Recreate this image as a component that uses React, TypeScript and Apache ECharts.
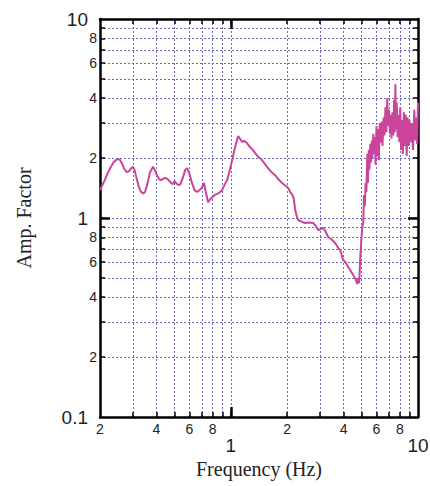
import React, { useEffect, useRef } from "react";
import * as echarts from "echarts";

// Frequency (Hz) and amplification factor of the site response curve
const freq = [
  0.2, 0.205, 0.212, 0.22, 0.228, 0.236, 0.247, 0.255, 0.262, 0.27, 0.278, 0.286, 0.294, 0.3, 0.306,
  0.314, 0.322, 0.33, 0.34, 0.348, 0.358, 0.37, 0.384, 0.395, 0.405, 0.415, 0.424, 0.436, 0.45, 0.462,
  0.48, 0.49, 0.5, 0.51, 0.52, 0.536, 0.555, 0.57, 0.584, 0.6, 0.62, 0.64, 0.66, 0.68, 0.7,
  0.719, 0.735, 0.756, 0.78, 0.824, 0.86, 0.898, 0.93, 0.955, 0.985, 1.016, 1.054, 1.094, 1.12, 1.149,
  1.178, 1.22, 1.26, 1.3, 1.35, 1.4, 1.45, 1.5, 1.564, 1.64, 1.726, 1.8, 1.88, 1.93, 2.0,
  2.04, 2.075, 2.127, 2.17, 2.207, 2.25, 2.29, 2.4, 2.5, 2.6, 2.756, 2.85, 2.93, 3.02, 3.12,
  3.22, 3.31, 3.48, 3.61, 3.75, 3.84, 3.98, 4.1, 4.24, 4.38, 4.51, 4.65, 4.73, 4.8, 4.85,
  4.91, 4.98, 5.04, 5.1, 5.15, 5.2, 5.25, 5.3, 5.36, 5.4, 5.46, 5.5, 5.56, 5.6, 5.66,
  5.7, 5.77, 5.82, 5.88, 5.93, 6.0, 6.06, 6.12, 6.18, 6.25, 6.32, 6.4, 6.46, 6.55, 6.62,
  6.7, 6.78, 6.85, 6.92, 7.0, 7.08, 7.15, 7.22, 7.3, 7.38, 7.45, 7.52, 7.57, 7.63, 7.7,
  7.78, 7.86, 7.95, 8.04, 8.12, 8.2, 8.3, 8.4, 8.5, 8.6, 8.7, 8.8, 8.9, 9.0, 9.1,
  9.25, 9.4, 9.55, 9.67, 9.8, 9.9, 10.0,
];
const ampFactor = [
  1.38, 1.45, 1.55, 1.68, 1.8, 1.9, 1.98, 1.97, 1.88, 1.76, 1.7, 1.72, 1.78, 1.81, 1.74,
  1.58, 1.44, 1.36, 1.33, 1.35, 1.48, 1.7, 1.81, 1.72, 1.62, 1.56, 1.55, 1.58, 1.59, 1.56,
  1.5, 1.48, 1.53, 1.5, 1.47, 1.47, 1.6, 1.74, 1.78, 1.68, 1.5, 1.38, 1.35, 1.38, 1.42,
  1.5, 1.35, 1.2, 1.25, 1.31, 1.33, 1.38, 1.48, 1.55, 1.72, 1.95, 2.27, 2.58, 2.5, 2.41,
  2.44, 2.38, 2.28, 2.22, 2.12, 2.03, 1.98, 1.9, 1.8, 1.71, 1.64, 1.56, 1.5, 1.47, 1.43,
  1.4, 1.35, 1.31, 1.25, 1.1, 1.02, 0.977, 0.955, 0.944, 0.95, 0.944, 0.91, 0.871, 0.88, 0.891,
  0.85, 0.803, 0.775, 0.749, 0.706, 0.69, 0.615, 0.6, 0.567, 0.54, 0.517, 0.49, 0.466, 0.5, 0.47,
  0.62, 0.78, 0.9, 0.95, 1.3, 1.15, 1.5, 1.35, 2.1, 1.5, 2.2, 1.75, 2.35, 1.9, 2.45,
  2.0, 2.65, 2.1, 2.55, 1.85, 2.9, 2.05, 2.8, 1.95, 3.0, 2.4, 3.05, 2.3, 3.2, 2.6,
  3.6, 2.7, 4.0, 2.9, 3.5, 2.65, 3.3, 2.5, 3.4, 2.6, 3.9, 2.7, 4.7, 2.8, 3.8,
  2.55, 3.3, 2.4, 3.6, 2.2, 3.1, 2.1, 3.4, 2.3, 3.3, 2.05, 3.2, 2.3, 3.1, 2.4,
  3.0, 2.2, 3.5, 2.45, 3.2, 2.35, 3.8,
];

// Axis ranges, grid positions and tick labels
const freqRange = [0.2, 10];
const ampRange = [0.1, 10];
const freqGrid = [0.3, 0.4, 0.5, 0.6, 0.7, 0.8, 0.9, 1, 2, 3, 4, 5, 6, 7, 8, 9];
const ampGrid = [0.2, 0.3, 0.4, 0.5, 0.6, 0.7, 0.8, 0.9, 1, 2, 3, 4, 5, 6, 7, 8, 9];
const freqMinorLabels = [0.2, 0.4, 0.6, 0.8, 2, 4, 6, 8];
const freqMajorLabels = [1, 10];
const ampMinorLabels = [0.2, 0.4, 0.6, 0.8, 2, 4, 6, 8];
const ampMajorLabels = [0.1, 1, 10];
const decadeTicks = [1];

const INK = "#222";
const GRID_BLUE = "#6a6ac4";
const CURVE = "#c9449a";

const leadingDigit = (v: number) => String(Math.round(v >= 1 ? v : v * 10));

export default function App() {
  const ref = useRef<HTMLDivElement>(null);

  useEffect(() => {
    if (!ref.current) return;
    const chart = echarts.init(ref.current, undefined, { renderer: "svg" });

    const frame = { show: true, lineStyle: { color: "#000", width: 2.5 } };
    const noLine = { show: false };
    const dotted = { show: true, lineStyle: { color: GRID_BLUE, width: 1, type: [2, 2] as number[] } };
    const minorTick = (vals: number[]) => ({
      show: true, inside: true, length: 5, customValues: vals, lineStyle: { color: "#000", width: 1.5 },
    });
    const majorTick = (vals: number[]) => ({
      show: true, inside: true, length: 10, customValues: vals, lineStyle: { color: "#000", width: 2.5 },
    });
    const smallLabel = (vals: number[], margin: number) => ({
      show: true, customValues: vals, margin, formatter: leadingDigit,
      fontFamily: "Liberation Sans", fontSize: 14, color: INK,
      showMinLabel: true, showMaxLabel: true, hideOverlap: false,
    });
    const bigLabel = (vals: number[], margin: number) => ({
      show: true, customValues: vals, margin, formatter: (v: number) => String(v),
      fontFamily: "Liberation Sans", fontSize: 19, color: INK,
      showMinLabel: true, showMaxLabel: true, hideOverlap: false,
    });
    const logX = { type: "log" as const, logBase: 10, min: freqRange[0], max: freqRange[1], gridIndex: 0 };
    const logY = { type: "log" as const, logBase: 10, min: ampRange[0], max: ampRange[1], gridIndex: 0 };

    chart.setOption({
      animation: false,
      backgroundColor: "#fff",
      grid: { left: 100, top: 19, width: 318, height: 398, outerBoundsMode: "none" },
      xAxis: [
        {
          ...logX, position: "bottom", axisLine: frame, axisTick: minorTick(freqGrid),
          splitLine: dotted, axisLabel: smallLabel(freqMinorLabels, 5),
          name: "Frequency (Hz)", nameLocation: "middle", nameGap: 42,
          nameTextStyle: { fontFamily: "Liberation Serif", fontSize: 20, color: INK },
        },
        {
          ...logX, position: "bottom", axisLine: noLine, axisTick: majorTick(decadeTicks),
          splitLine: noLine, axisLabel: bigLabel(freqMajorLabels, 19),
        },
        {
          ...logX, position: "top", axisLine: frame, axisTick: minorTick(freqGrid),
          splitLine: noLine, axisLabel: { show: false },
        },
        {
          ...logX, position: "top", axisLine: noLine, axisTick: majorTick(decadeTicks),
          splitLine: noLine, axisLabel: { show: false },
        },
      ],
      yAxis: [
        {
          ...logY, position: "left", axisLine: frame, axisTick: minorTick(ampGrid),
          splitLine: dotted, axisLabel: smallLabel(ampMinorLabels, 3),
          name: "Amp. Factor", nameLocation: "middle", nameGap: 66, nameRotate: 90,
          nameTextStyle: { fontFamily: "Liberation Serif", fontSize: 20, color: INK },
        },
        {
          ...logY, position: "left", axisLine: noLine, axisTick: majorTick(decadeTicks),
          splitLine: noLine, axisLabel: bigLabel(ampMajorLabels, 12),
        },
        {
          ...logY, position: "right", axisLine: frame, axisTick: minorTick(ampGrid),
          splitLine: noLine, axisLabel: { show: false },
        },
        {
          ...logY, position: "right", axisLine: noLine, axisTick: majorTick(decadeTicks),
          splitLine: noLine, axisLabel: { show: false },
        },
      ],
      series: [
        {
          type: "line",
          xAxisIndex: 0,
          yAxisIndex: 0,
          showSymbol: false,
          clip: true,
          lineStyle: { color: CURVE, width: 2 },
          data: freq.map((f, i) => [f, ampFactor[i]]),
        },
      ],
    });

    return () => chart.dispose();
  }, []);

  return (
    <div
      ref={ref}
      style={{ position: "fixed", left: 0, top: 0, width: 430, height: 486, background: "#fff" }}
    />
  );
}
